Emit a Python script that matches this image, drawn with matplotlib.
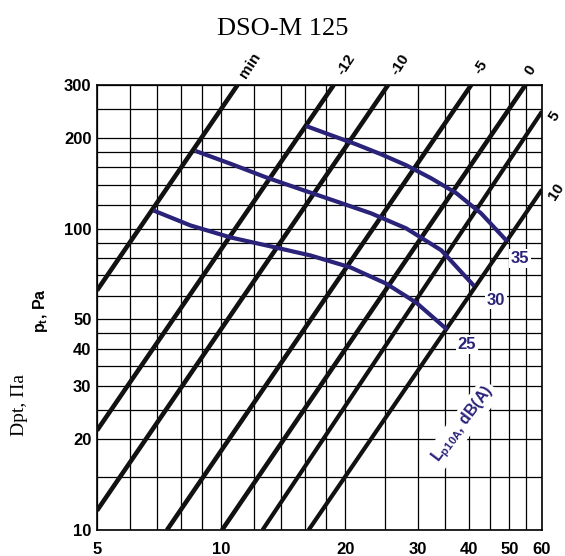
import matplotlib
matplotlib.use("Agg")
import matplotlib.pyplot as plt
from matplotlib.ticker import FixedLocator, FixedFormatter, NullFormatter

plt.rcParams['mathtext.fontset'] = 'custom'
plt.rcParams['mathtext.rm'] = 'Liberation Sans'
plt.rcParams['mathtext.bf'] = 'Liberation Sans:bold'
plt.rcParams['mathtext.it'] = 'Liberation Sans:italic'

# ---- data -------------------------------------------------------------
title = "DSO-M 125"

x_ticks = [5, 10, 20, 30, 40, 50, 60]
y_ticks = [10, 20, 30, 40, 50, 100, 200, 300]
x_grid = [5, 6, 7, 8, 9, 10, 12, 14, 16, 18, 20, 25, 30, 35, 40, 45, 50, 55, 60]
y_grid = [10, 15, 20, 25, 30, 35, 40, 45, 50, 60, 70, 80, 90, 100,
          120, 140, 160, 180, 200, 250, 300]

# damper setting lines: (flow, pressure) at both ends of each straight line
damper_labels = ["min", "-12", "-10", "-5", "0", "5", "10"]
damper_q = [(5, 10.96), (5, 18.75), (5, 25.4), (7.39, 40.4), (10.05, 54.7),
            (12.6, 60), (16.3, 60)]
damper_dp = [(62.4, 300), (21.4, 300), (11.6, 300), (10, 300), (10, 300),
             (10, 245), (10, 135)]

# sound level curves, L_p10A in dB(A)
lpa_levels = ["25", "30", "35"]
lpa25_q = [6.84, 8.42, 10.53, 13.18, 16.49, 20.6, 25.1, 29.7, 35.3]
lpa25_dp = [115.1, 102.6, 93.6, 87.4, 81.5, 74.4, 65.8, 56.9, 46.3]
lpa30_q = [8.66, 10.53, 12.82, 15.59, 18.97, 23.1, 28.1, 34.2, 41.1]
lpa30_dp = [181.3, 164.4, 148.3, 135.2, 123.4, 112.5, 100.3, 84.8, 64.5]
lpa35_q = [16.05, 18.44, 21.2, 24.4, 28.1, 32.3, 37.2, 42.7, 49.4]
lpa35_dp = [219.4, 204.6, 190.9, 176.8, 162.5, 147.1, 131.2, 112.5, 90.8]

# ---- styling ----------------------------------------------------------
NAVY = "#2a2379"
PX = 0.72  # points per pixel at 100 dpi

fig = plt.figure(figsize=(5.65, 5.56), dpi=100)
ax = fig.add_axes([97 / 565, 1 - 530 / 556, 445 / 565, 445 / 556])
ax.set_xscale("log")
ax.set_yscale("log")
ax.set_xlim(5, 60)
ax.set_ylim(10, 300)

ax.xaxis.set_major_locator(FixedLocator(x_ticks))
ax.xaxis.set_major_formatter(FixedFormatter([str(v) for v in x_ticks]))
ax.xaxis.set_minor_locator(FixedLocator(x_grid))
ax.xaxis.set_minor_formatter(NullFormatter())
ax.yaxis.set_major_locator(FixedLocator(y_ticks))
ax.yaxis.set_major_formatter(FixedFormatter([str(v) for v in y_ticks]))
ax.yaxis.set_minor_locator(FixedLocator(y_grid))
ax.yaxis.set_minor_formatter(NullFormatter())

ax.grid(which="both", color="black", linewidth=0.9)
ax.set_axisbelow(True)
ax.tick_params(which="both", length=0)
ax.tick_params(axis="x", pad=9)
ax.tick_params(axis="y", pad=4)
for lab in ax.get_xticklabels() + ax.get_yticklabels():
    lab.set_fontfamily("Liberation Sans")
    lab.set_fontweight("bold")
    lab.set_fontsize(12)
for sp in ax.spines.values():
    sp.set_linewidth(1.2)

# damper lines
label_offsets = [(13, 20), (12, 20), (12, 20), (10, 18), (5, 15), (12, -5), (14, -2)]
for name, qs, dps, off in zip(damper_labels, damper_q, damper_dp, label_offsets):
    lw = 3.0 if name in ("5", "10") else 3.3
    ax.plot(qs, dps, color="#111111", linewidth=lw, solid_capstyle="butt", zorder=3)
    ax.annotate(name, xy=(qs[1], dps[1]), xytext=(off[0] * PX, off[1] * PX),
                textcoords="offset points", ha="center", va="center",
                rotation=57, fontsize=11, fontweight="bold",
                family="Liberation Sans", annotation_clip=False)

# sound level curves
curves = [(lpa25_q, lpa25_dp), (lpa30_q, lpa30_dp), (lpa35_q, lpa35_dp)]
curve_offsets = [(20, -15), (22, -14), (13, -17)]
for lev, (qs, dps), off in zip(lpa_levels, curves, curve_offsets):
    ax.plot(qs, dps, color=NAVY, linewidth=3.0, solid_capstyle="butt",
            solid_joinstyle="round", zorder=4)
    ax.annotate(lev, xy=(qs[-1], dps[-1]), xytext=(off[0] * PX, off[1] * PX),
                textcoords="offset points", ha="center", va="center",
                fontsize=12, fontweight="bold", color=NAVY,
                family="Liberation Sans", zorder=5,
                bbox=dict(boxstyle="square,pad=0.1", fc="white", ec="none"))

fig.text(463 / 565, 1 - 424 / 556, r"$\mathbf{L}_{\mathbf{p10A}}$, dB(A)",
         rotation=53, ha="center", va="center", fontsize=11.5,
         fontweight="bold", color=NAVY, family="Liberation Sans", zorder=6,
         bbox=dict(boxstyle="square,pad=0.15", fc="white", ec="none"))

# titles and axis captions
fig.text(0.5, 1 - 29 / 556, title, ha="center", va="center",
         family="Liberation Serif", fontsize=19)
fig.text(40 / 565, 1 - 311 / 556, r"$\mathbf{p}_{\mathbf{t}}$, Pa", rotation=90,
         ha="center", va="center", fontsize=11.5, fontweight="bold",
         family="Liberation Sans")
fig.text(19.5 / 565, 1 - 404.5 / 556, "Dpt, Па", rotation=90,
         ha="center", va="center", fontsize=14, family="Liberation Serif")

fig.savefig("out.png", dpi=100)
